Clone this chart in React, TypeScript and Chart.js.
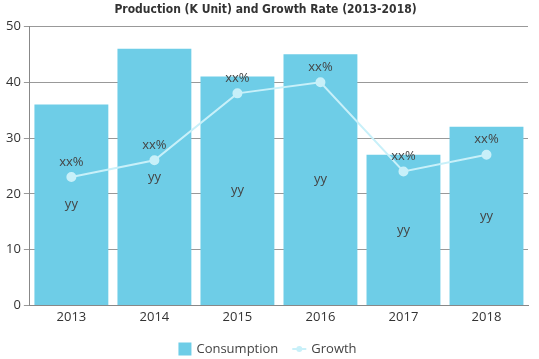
import React, { useEffect, useRef } from "react";
import { Chart, registerables } from "chart.js";

Chart.register(...registerables);

const categories = ["2013", "2014", "2015", "2016", "2017", "2018"];
const consumption = [36, 46, 41, 45, 27, 32];
const growth = [23, 26, 38, 40, 24, 27];
const barLabels = ["yy", "yy", "yy", "yy", "yy", "yy"];
const lineLabels = ["xx%", "xx%", "xx%", "xx%", "xx%", "xx%"];
const seriesNames = ["Consumption", "Growth"];

const BAR = "#6ECDE7";
const LINE = "#C8F0F9";
const FONT = "'Open Sans', 'DejaVu Sans', sans-serif";

const labelPlugin = {
  id: "valueLabels",
  afterDatasetsDraw(chart: any) {
    const ctx = chart.ctx;
    ctx.save();
    ctx.font = "13px " + FONT;
    ctx.fillStyle = "#444";
    ctx.textAlign = "center";
    ctx.textBaseline = "middle";
    const barMeta = chart.getDatasetMeta(0);
    barMeta.data.forEach((el: any, i: number) => {
      const y = (el.y + el.base) / 2;
      ctx.fillText(barLabels[i], el.x, y);
    });
    const lineMeta = chart.getDatasetMeta(1);
    lineMeta.data.forEach((el: any, i: number) => {
      ctx.fillText(lineLabels[i], el.x, el.y - 15);
    });
    ctx.restore();
  },
};

const legendPlugin = {
  id: "customLegend",
  afterDraw(chart: any) {
    const ctx = chart.ctx;
    ctx.save();
    ctx.font = "13px " + FONT;
    ctx.textBaseline = "middle";
    ctx.textAlign = "left";
    const y = 349;
    const w0 = ctx.measureText(seriesNames[0]).width;
    const w1 = ctx.measureText(seriesNames[1]).width;
    const total = 13 + 5 + w0 + 14 + 14 + 5 + w1;
    let x = chart.width / 2 - total / 2 - 2;
    ctx.fillStyle = BAR;
    ctx.fillRect(x, y - 6.5, 13, 13);
    x += 18;
    ctx.fillStyle = "#444";
    ctx.fillText(seriesNames[0], x, y);
    x += w0 + 14;
    ctx.strokeStyle = LINE;
    ctx.lineWidth = 2;
    ctx.beginPath();
    ctx.moveTo(x, y);
    ctx.lineTo(x + 14, y);
    ctx.stroke();
    ctx.fillStyle = LINE;
    ctx.beginPath();
    ctx.arc(x + 7, y, 3, 0, Math.PI * 2);
    ctx.fill();
    x += 19;
    ctx.fillStyle = "#444";
    ctx.fillText(seriesNames[1], x, y);
    ctx.restore();
  },
};

export default function App() {
  const ref = useRef<HTMLCanvasElement>(null);
  useEffect(() => {
    document.body.style.margin = "0";
    const chart = new Chart(ref.current!, {
      type: "bar",
      data: {
        labels: categories,
        datasets: [
          {
            type: "bar",
            label: seriesNames[0],
            data: consumption,
            backgroundColor: BAR,
            borderWidth: 0,
            barPercentage: 0.89,
            categoryPercentage: 1,
            order: 2,
          },
          {
            type: "line",
            label: seriesNames[1],
            data: growth,
            borderColor: LINE,
            backgroundColor: LINE,
            borderWidth: 2,
            pointRadius: 4,
            pointBackgroundColor: LINE,
            pointBorderColor: LINE,
            tension: 0,
            order: 1,
          },
        ] as any,
      },
      options: {
        animation: false,
        responsive: false,
        maintainAspectRatio: false,
        layout: { padding: { left: 3, right: 11, top: 0, bottom: 30 } },
        plugins: {
          title: {
            display: true,
            text: "Production (K Unit) and Growth Rate (2013-2018)",
            font: { family: "'DejaVu Sans Condensed', 'Liberation Sans Narrow', sans-serif", size: 12, weight: "bold" },
            color: "#333",
            padding: { top: 3, bottom: 9 },
          },
          legend: { display: false },
          tooltip: { enabled: false },
        },
        scales: {
          x: {
            grid: { display: false, drawOnChartArea: false, drawTicks: false },
            border: { display: true, color: "#888" },
            ticks: { color: "#333", font: { family: FONT, size: 13 }, padding: 4 },
          },
          y: {
            min: 0,
            max: 50,
            ticks: { stepSize: 10, color: "#333", font: { family: FONT, size: 13 }, padding: 3 },
            grid: { color: "#999", tickLength: 6 },
            border: { display: true, color: "#888" },
          },
        },
      } as any,
      plugins: [labelPlugin, legendPlugin],
    });
    return () => chart.destroy();
  }, []);
  return (
    <div style={{ width: 539, height: 359 }}>
      <canvas ref={ref} width={539} height={359} style={{ width: 539, height: 359, display: "block" }} />
    </div>
  );
}
